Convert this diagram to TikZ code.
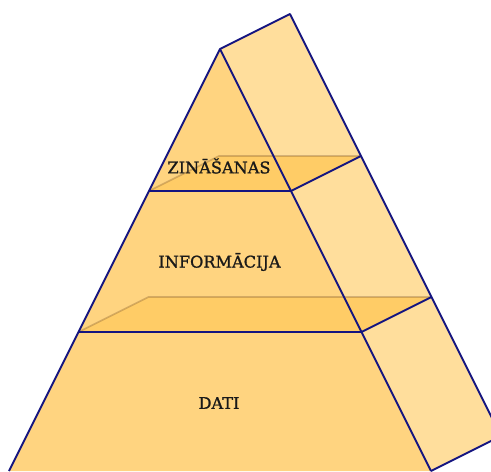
\documentclass[tikz,border=0pt]{standalone}
\usepackage{fontspec}
\usetikzlibrary{calc}
\newfontfamily\slabfont[FakeBold=1.2]{DejaVu Serif}
\definecolor{frontface}{HTML}{FFD480}
\definecolor{sideface}{HTML}{FFDE9C}
\definecolor{cutface}{HTML}{FFCC66}
\definecolor{edgeblue}{HTML}{141480}
\tikzset{
  edge/.style={draw=edgeblue, line width=1.1pt, line join=round},
  hidden/.style={draw=brown!60!black, opacity=0.3, line width=0.9pt},
  level/.style={font=\slabfont\fontsize{9.2}{11}\selectfont, text=black!90}
}
\begin{document}
\begin{tikzpicture}[x=0.02cm, y=-0.02cm]
\def\ox{70}
\def\oy{-35}
\useasboundingbox (0,0) rectangle (491,471);
\clip (0,0) rectangle (491,471);
% front triangle
\coordinate (top) at (220,49);
\coordinate (bl) at (9,471);
\coordinate (br) at (431,471);
\coordinate (l1) at (149,191);
\coordinate (r1) at (291,191);
\coordinate (l2) at (78.5,332);
\coordinate (r2) at (361.5,332);
% back corners
\coordinate (btop) at ($(top)+(\ox,\oy)$);
\coordinate (bbr) at ($(br)+(\ox,\oy)$);
\coordinate (bl1) at ($(l1)+(\ox,\oy)$);
\coordinate (br1) at ($(r1)+(\ox,\oy)$);
\coordinate (bl2) at ($(l2)+(\ox,\oy)$);
\coordinate (br2) at ($(r2)+(\ox,\oy)$);
% faces
\fill[sideface] (top) -- (br) -- (bbr) -- (btop) -- cycle;
\fill[frontface] (top) -- (br) -- (bl) -- cycle;
% cuts between the levels
\fill[cutface] (l1) -- (r1) -- (br1) -- (bl1) -- cycle;
\fill[cutface] (l2) -- (r2) -- (br2) -- (bl2) -- cycle;
\draw[hidden] (l1) -- (bl1) -- (br1);
\draw[hidden] (l2) -- (bl2) -- (br2);
% labels
\node[level] (zin) at (219,166) {ZINĀŠANAS};
\node[level] (info) at (219.5,262) {INFORMĀCIJA};
\node[level] (dati) at (219,403) {DATI};
% outlines
\draw[edge] (bl) -- (top) -- (br);
\draw[edge] (top) -- (btop) -- (bbr) -- (br);
\draw[edge] (l1) -- (r1) -- (br1);
\draw[edge] (l2) -- (r2) -- (br2);
\end{tikzpicture}
\end{document}
